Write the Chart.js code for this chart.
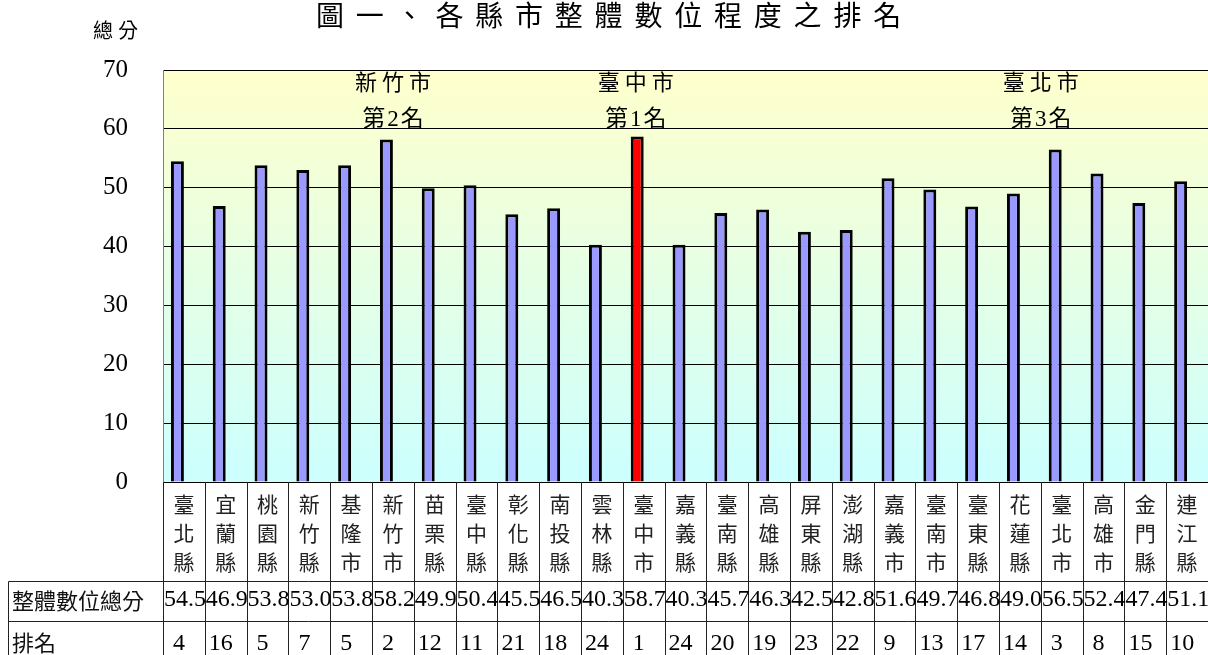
<!DOCTYPE html>
<html>
<head>
<meta charset="utf-8">
<script src="https://cdn.jsdelivr.net/npm/chart.js@4.4.0/dist/chart.umd.min.js"></script>
<style>
html,body{margin:0;padding:0;background:#fff;}
#wrap{width:1208px;height:655px;position:relative;}
</style>
</head>
<body>
<div id="wrap"><canvas id="c"></canvas></div>
<script>
// ---- data ----
const titleText = '圖一、各縣市整體數位程度之排名';
const yAxisTitle = '總分';
const categories = ['臺北縣','宜蘭縣','桃園縣','新竹縣','基隆市','新竹市','苗栗縣','臺中縣','彰化縣','南投縣','雲林縣','臺中市','嘉義縣','臺南縣','高雄縣','屏東縣','澎湖縣','嘉義市','臺南市','臺東縣','花蓮縣','臺北市','高雄市','金門縣','連江縣'];
const scores = [54.5,46.9,53.8,53.0,53.8,58.2,49.9,50.4,45.5,46.5,40.3,58.7,40.3,45.7,46.3,42.5,42.8,51.6,49.7,46.8,49.0,56.5,52.4,47.4,51.1];
const ranks = [4,16,5,7,5,2,12,11,21,18,24,1,24,20,19,23,22,9,13,17,14,3,8,15,10];
const seriesNames = ['整體數位總分','排名'];
const yTicks = [0,10,20,30,40,50,60,70];
const topRanks = [1,2,3];

// ---- style ----
const CJK = "'Noto Sans CJK TC'";
const FONT = "'Liberation Serif','Noto Sans CJK TC'";
const annotationOffsets = {1:-8, 2:0, 3:-21};

const bgPlugin = {
  id: 'plotBg',
  beforeDraw(chart) {
    const {ctx, chartArea:a} = chart;
    const g = ctx.createLinearGradient(0, a.top, 0, a.bottom);
    g.addColorStop(0, '#FFFFCC');
    g.addColorStop(1, '#CCFFFF');
    ctx.save();
    ctx.fillStyle = g;
    ctx.fillRect(a.left, a.top, chart.width - a.left, a.bottom - a.top);
    ctx.restore();
  }
};

const textPlugin = {
  id: 'texts',
  afterDraw(chart) {
    const {ctx, chartArea:a} = chart;
    const xs = chart.scales.x;
    ctx.save();
    ctx.fillStyle = '#000';
    ctx.textBaseline = 'middle';
    // title
    ctx.font = "28px " + CJK;
    ctx.letterSpacing = '11.8px';
    ctx.textAlign = 'left';
    ctx.fillText(titleText, 316, 15);
    // y axis title
    ctx.font = "20px " + CJK;
    ctx.letterSpacing = '5px';
    ctx.fillText(yAxisTitle, 93, 30);
    // annotations for top ranks
    ctx.textAlign = 'center';
    topRanks.forEach(r => {
      const idx = ranks.indexOf(r);
      const cx = xs.getPixelForValue(idx) + (annotationOffsets[r] || 0);
      ctx.font = "22px " + CJK;
      ctx.letterSpacing = '5px';
      ctx.fillText(categories[idx], cx + 2.5, 82);
      ctx.font = "23px " + FONT;
      ctx.letterSpacing = '2px';
      ctx.fillText('第' + r + '名', cx + 1, 120);
    });
    ctx.letterSpacing = '0px';

    // data table
    const n = categories.length;
    const cw = (a.right - a.left) / n;
    const rowTop = 581.5, rowMid = 621.5, bottom = chart.height;
    ctx.strokeStyle = '#222';
    ctx.lineWidth = 1;
    ctx.beginPath();
    for (let i = 0; i <= n; i++) {
      const px = Math.round(xs.getPixelForValue(i) - cw / 2) + 0.5;
      ctx.moveTo(px, a.bottom);
      ctx.lineTo(px, bottom);
    }
    ctx.moveTo(8.5, rowTop); ctx.lineTo(chart.width, rowTop);
    ctx.moveTo(8.5, rowMid); ctx.lineTo(chart.width, rowMid);
    ctx.moveTo(8.5, rowTop); ctx.lineTo(8.5, bottom);
    ctx.stroke();

    ctx.textAlign = 'left';
    ctx.font = "22px " + CJK;
    ctx.fillStyle = '#111';
    ctx.fillText(seriesNames[0], 12, 601);
    ctx.fillText(seriesNames[1], 12, 643);
    ctx.font = "24px 'Liberation Serif'";
    ctx.fillStyle = '#000';
    for (let i = 0; i < n; i++) {
      const left = xs.getPixelForValue(i) - cw / 2;
      ctx.textAlign = 'left';
      ctx.fillText(scores[i].toFixed(1), left + 1, 600);
      ctx.textAlign = 'center';
      ctx.fillText(String(ranks[i]), left + 16, 644);
    }
    ctx.restore();
  }
};

new Chart(document.getElementById('c'), {
  type: 'bar',
  data: {
    labels: categories.map(c => c.split('')),
    datasets: [
      {
        label: seriesNames[0],
        data: scores,
        backgroundColor: ranks.map(r => r === 1 ? '#FF0000' : '#9999FF'),
        borderColor: '#000',
        borderWidth: 3,
        categoryPercentage: 0.62,
        barPercentage: 1
      },
      {
        label: seriesNames[1],
        data: ranks,
        backgroundColor: 'rgba(0,0,0,0)',
        borderWidth: 0,
        categoryPercentage: 0.62,
        barPercentage: 1
      }
    ]
  },
  options: {
    responsive: true,
    maintainAspectRatio: false,
    animation: false,
    devicePixelRatio: 1,
    layout: { padding: { top: 70, left: 103, right: 0, bottom: 0 } },
    plugins: {
      legend: { display: false },
      title: { display: false },
      tooltip: { enabled: false }
    },
    scales: {
      x: {
        grid: { display: false, drawTicks: false },
        border: { display: true, color: '#000', width: 1 },
        ticks: {
          autoSkip: false,
          maxRotation: 0,
          minRotation: 0,
          padding: 8,
          color: '#222',
          font: { family: CJK, size: 21, lineHeight: '29px' }
        },
        afterFit: (s) => { s.height = 173; }
      },
      y: {
        min: 0,
        max: 70,
        afterBuildTicks: (s) => { s.ticks = yTicks.map(v => ({ value: v })); },
        grid: { color: '#000', lineWidth: 1, drawTicks: false },
        border: { display: true, color: '#808080', width: 1 },
        ticks: {
          padding: 35,
          color: '#000',
          font: { family: "'Liberation Serif'", size: 25 }
        },
        afterFit: (s) => { s.width = 60; }
      }
    }
  },
  plugins: [bgPlugin, textPlugin]
});
</script>
</body>
</html>
